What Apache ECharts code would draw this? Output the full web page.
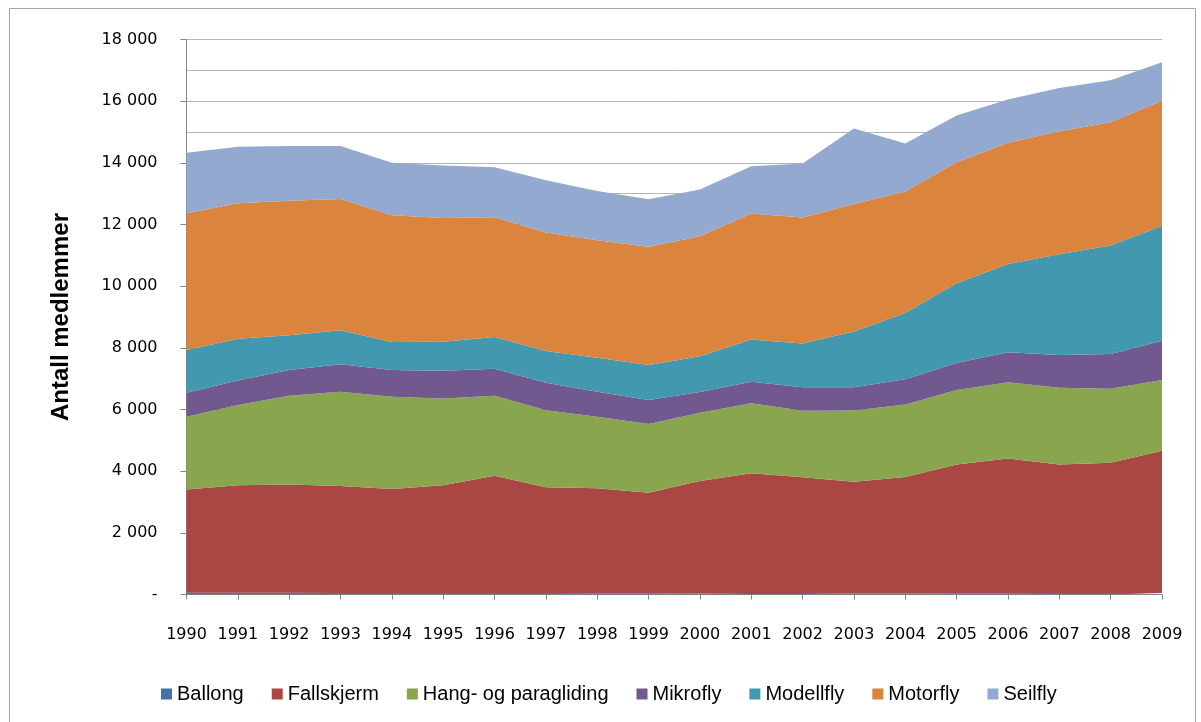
<!DOCTYPE html>
<html>
<head>
<meta charset="utf-8">
<script src="https://cdn.jsdelivr.net/npm/echarts@6/dist/echarts.min.js"></script>
<style>
html,body{margin:0;padding:0;background:#fff;}
#chart{width:1201px;height:722px;}
</style>
</head>
<body>
<div id="chart"></div>
<script>
const years = ['1990','1991','1992','1993','1994','1995','1996','1997','1998','1999','2000','2001','2002','2003','2004','2005','2006','2007','2008','2009'];
const ballong     = [60, 55, 55, 50, 50, 45, 45, 45, 40, 40, 35, 20, 20, 30, 35, 40, 40, 45, 45, 50];
const fallskjerm  = [3350, 3490, 3510, 3470, 3370, 3500, 3810, 3430, 3405, 3260, 3645, 3910, 3780, 3630, 3775, 4180, 4375, 4175, 4230, 4615];
const hangPara    = [2355, 2605, 2885, 3060, 2995, 2810, 2595, 2505, 2320, 2230, 2215, 2270, 2160, 2305, 2350, 2410, 2470, 2485, 2400, 2295];
const mikrofly    = [780, 790, 835, 890, 865, 900, 875, 885, 810, 780, 670, 700, 760, 760, 825, 880, 975, 1065, 1130, 1275];
const modellfly   = [1385, 1360, 1125, 1100, 910, 940, 1030, 1035, 1105, 1135, 1160, 1375, 1425, 1805, 2145, 2590, 2860, 3265, 3520, 3730];
const motorfly    = [4435, 4390, 4365, 4260, 4110, 4015, 3885, 3845, 3815, 3835, 3900, 4085, 4085, 4140, 3940, 3925, 3935, 3990, 3990, 4055];
const seilfly     = [1965, 1835, 1775, 1720, 1705, 1705, 1620, 1695, 1590, 1545, 1515, 1535, 1750, 2445, 1560, 1515, 1400, 1405, 1370, 1245];
const yTicks = [0, 2000, 4000, 6000, 8000, 10000, 12000, 14000, 16000, 18000];

const seriesDefs = [
  ['Ballong', ballong, '#4572A7'],
  ['Fallskjerm', fallskjerm, '#AA4643'],
  ['Hang- og paragliding', hangPara, '#89A54E'],
  ['Mikrofly', mikrofly, '#71588F'],
  ['Modellfly', modellfly, '#4198AF'],
  ['Motorfly', motorfly, '#DB843D'],
  ['Seilfly', seilfly, '#93A9CF']
];

const fmt = v => v === 0 ? '-' : String(v).replace(/\B(?=(\d{3})+(?!\d))/g, ' ');

const chart = echarts.init(document.getElementById('chart'), null, {renderer: 'canvas'});
chart.setOption({
  animation: false,
  backgroundColor: '#fff',
  color: seriesDefs.map(s => s[2]),
  graphic: [{
    type: 'rect', silent: true, z: -10,
    shape: {x: 9.5, y: 8.5, width: 1186, height: 730},
    style: {fill: 'none', stroke: '#a6a6a6', lineWidth: 1}
  }],
  grid: {left: 186.5, right: 39, top: 39.6, bottom: 127.5, containLabel: false},
  legend: {
    left: 156, top: 679,
    icon: 'rect', itemWidth: 11, itemHeight: 11, itemGap: 28,
    textStyle: {fontFamily: 'Liberation Sans, Arial, sans-serif', fontSize: 20, color: '#000'},
    data: seriesDefs.map(s => s[0])
  },
  xAxis: {
    type: 'category', data: years, boundaryGap: false,
    axisLine: {show: true, lineStyle: {color: '#868686', width: 1}},
    axisTick: {show: true, inside: false, length: 5, interval: 0, lineStyle: {color: '#868686'}},
    axisLabel: {interval: 0, margin: 32, fontFamily: 'DejaVu Sans, sans-serif', fontSize: 16, color: '#000'},
    splitLine: {show: false}
  },
  yAxis: {
    type: 'value', min: 0, max: 18000, interval: 2000,
    name: 'Antall medlemmer', nameLocation: 'middle', nameGap: 113, nameRotate: 90,
    nameTextStyle: {fontFamily: 'Liberation Sans, Arial, sans-serif', fontWeight: 'bold', fontSize: 24, color: '#000'},
    axisLine: {show: true, lineStyle: {color: '#868686', width: 1}},
    axisTick: {show: true, inside: false, length: 6, lineStyle: {color: '#868686'}},
    axisLabel: {margin: 29, fontFamily: 'DejaVu Sans, sans-serif', fontSize: 16, color: '#000', formatter: v => fmt(v)},
    splitLine: {show: true, lineStyle: {color: '#b5b5b5', width: 1}},
    minorTick: {show: false, splitNumber: 2},
    minorSplitLine: {show: true, lineStyle: {color: '#b5b5b5', width: 1}}
  },
  series: seriesDefs.map(s => ({
    name: s[0], type: 'line', stack: 'total', data: s[1],
    symbol: 'none', showSymbol: false,
    lineStyle: {width: 0},
    areaStyle: {color: s[2], opacity: 1},
    itemStyle: {color: s[2]},
    emphasis: {disabled: true}
  }))
});
</script>
</body>
</html>
